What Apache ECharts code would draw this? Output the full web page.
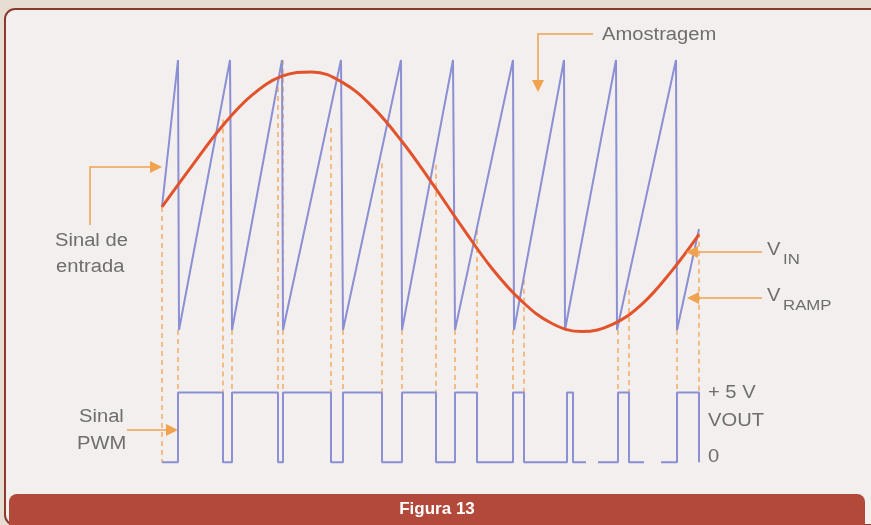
<!DOCTYPE html>
<html>
<head>
<meta charset="utf-8">
<style>
  html, body { margin: 0; padding: 0; background: #e8ddd3; }
  #chart { width: 871px; height: 525px; }
</style>
<script src="https://cdn.jsdelivr.net/npm/echarts@6/dist/echarts.min.js"></script>
</head>
<body>
<div id="chart"></div>
<script>
// time in ms, ramp / input in volts
const rampT = [0, 1.6, 1.7, 6.8, 7.0, 12.0, 12.1, 17.9, 18.1, 23.9, 24.0, 29.1, 29.3, 35.1, 35.2, 40.2, 40.3, 45.4, 45.5, 51.4, 51.5, 53.7]
const rampV = [2.28, 5, 0, 5, 0, 5, 0, 5, 0, 5, 0, 5, 0, 5, 0, 5, 0, 5, 0, 5, 0, 1.87]

const sineT = [0, 3, 6, 9, 12, 15, 18, 21, 24, 27, 30, 33, 36, 39, 42, 45, 48, 51, 53.7]
const sineV = [2.28, 3.04, 3.77, 4.35, 4.70, 4.78, 4.59, 4.14, 3.49, 2.72, 1.91, 1.14, 0.53, 0.12, -0.03, 0.10, 0.48, 1.10, 1.77]

// PWM output (0 / 5 V), null = break in the printed trace
const pwmT = [0, 1.6, 1.6, 6.1, 6.1, 7.0, 7.0, 11.6, 11.6, 12.1, 12.1, 16.9, 16.9, 18.1, 18.1, 22.0, 22.0, 24.0, 24.0, 27.4, 27.4, 29.3, 29.3, 31.5, 31.5, 35.1, 35.1, 36.2, 36.2, 40.5, 40.5, 41.1, 41.1, 42.4, 42.4, 43.6, 45.6, 45.6, 46.7, 46.7, 48.2, 48.2, 49.9, 51.5, 51.5, 53.7, 53.7]
const pwmV = [0, 0, 5, 5, 0, 0, 5, 5, 0, 0, 5, 5, 0, 0, 5, 5, 0, 0, 5, 5, 0, 0, 5, 5, 0, 0, 5, 5, 0, 0, 5, 5, 0, 0, null, 0, 0, 5, 5, 0, 0, null, 0, 0, 5, 5, 0]

// sampling guides: start on the ramp/input plot, end on the PWM trace
const dashT = [0, 1.6, 6.1, 7.0, 11.6, 12.1, 16.9, 18.1, 22.0, 24.0, 27.4, 29.3, 31.5, 35.1, 36.2, 45.6, 46.7, 51.5, 53.7]
const dashTop = [2.28, 0, 3.9, 0, 4.5, 5, 3.74, 0, 3.09, 0, 3.06, 0, 1.85, 0, 0.93, 0, 0.74, 0, 1.8]
const dashEnd = [0, 5, 5, 5, 5, 5, 5, 5, 5, 5, 5, 5, 5, 5, 5, 5, 5, 5, 5]

const Y0 = { min: -2.5, max: 5 }
const Y1 = { min: -0.2, max: 28.8 }

// PWM level expressed on the ramp axis (both axes share the grid)
const toY0 = v => Y0.min + (v - Y1.min) / (Y1.max - Y1.min) * (Y0.max - Y0.min)

const zip = (a, b) => a.map((x, i) => [x, b[i]])

const dashData = []
dashT.forEach((t, i) => {
  dashData.push([t, dashTop[i]], [t, toY0(dashEnd[i])], [t, null])
})

const BLUE = '#8b8fd3'
const RED = '#e2532c'
const ORANGE = '#f0a24f'
const GREY = '#6e6e6e'
const FONT = '"Liberation Sans", Arial, sans-serif'

function label(text, x, y, opts = {}) {
  return {
    type: 'text', x, y, z: 100,
    scaleX: opts.scaleX || 1.12,
    style: {
      text,
      fill: opts.fill || GREY,
      font: `${opts.weight || 'normal'} ${opts.size || 18}px ${FONT}`,
      textAlign: opts.align || 'left',
      textVerticalAlign: 'middle'
    }
  }
}

function line(points) {
  return {
    type: 'polyline', z: 90,
    shape: { points },
    style: { stroke: ORANGE, lineWidth: 1.5, fill: null }
  }
}

function head(points) {
  return { type: 'polygon', z: 90, shape: { points }, style: { fill: ORANGE } }
}

const chart = echarts.init(document.getElementById('chart'))

chart.setOption({
  animation: false,
  backgroundColor: '#e8ddd3',
  grid: { left: 162, top: 60, width: 537, height: 405 },
  xAxis: { type: 'value', min: 0, max: 53.7, show: false },
  yAxis: [
    { type: 'value', min: Y0.min, max: Y0.max, show: false },
    { type: 'value', min: Y1.min, max: Y1.max, show: false }
  ],
  graphic: [
    {
      type: 'rect', z: -10,
      shape: { x: 5, y: 9, width: 900, height: 516, r: 10 },
      style: { fill: '#f3efee', stroke: '#8b3b2d', lineWidth: 2 }
    },
    {
      type: 'rect', z: -5,
      shape: { x: 9, y: 494, width: 856, height: 32, r: [8, 8, 0, 0] },
      style: { fill: '#b2493a' }
    },
    label('Figura 13', 437, 509, { fill: '#ffffff', weight: 'bold', size: 17, align: 'center', scaleX: 1 }),

    line([[593, 34], [538, 34], [538, 80]]),
    head([[538, 92], [532, 80], [544, 80]]),
    label('Amostragem', 602, 35),

    line([[90, 225], [90, 167], [151, 167]]),
    head([[162, 167], [150, 161], [150, 173]]),
    label('Sinal de', 55, 241),
    label('entrada', 56, 267),

    line([[127, 430], [167, 430]]),
    head([[178, 430], [166, 424], [166, 436]]),
    label('Sinal', 79, 417),
    label('PWM', 77, 444),

    line([[762, 252], [697, 252]]),
    head([[686, 252], [698, 246], [698, 258]]),
    label('V', 767, 250),
    label('IN', 783, 260, { size: 15 }),

    line([[762, 298], [698, 298]]),
    head([[687, 298], [699, 292], [699, 304]]),
    label('V', 767, 296),
    label('RAMP', 783, 306, { size: 15 }),

    label('+ 5 V', 708, 393),
    label('VOUT', 708, 421),
    label('0', 708, 457)
  ],
  series: [
    {
      name: 'guides', type: 'line', data: dashData,
      showSymbol: false, connectNulls: false, clip: false, z: 1,
      lineStyle: { color: ORANGE, width: 1.3, type: [5, 4] }
    },
    {
      name: 'V_RAMP', type: 'line', data: zip(rampT, rampV),
      showSymbol: false, clip: false, z: 3,
      lineStyle: { color: BLUE, width: 2 }
    },
    {
      name: 'V_IN', type: 'line', data: zip(sineT, sineV),
      smooth: 0.4, showSymbol: false, clip: false, z: 4,
      lineStyle: { color: RED, width: 3 }
    },
    {
      name: 'PWM', type: 'line', yAxisIndex: 1, data: zip(pwmT, pwmV),
      showSymbol: false, connectNulls: false, clip: false, z: 3,
      lineStyle: { color: BLUE, width: 2 }
    }
  ]
})
</script>
</body>
</html>
